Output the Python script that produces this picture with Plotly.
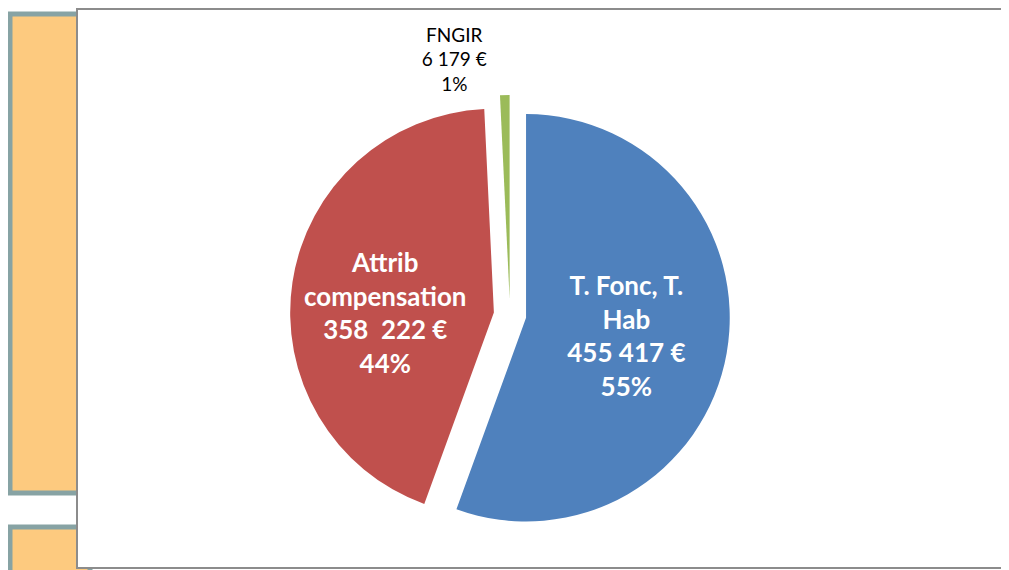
import plotly.graph_objects as go

# Data
categories = ["T. Fonc, T. Hab", "Attrib compensation", "FNGIR"]
display_names = ["T. Fonc, T.<br>Hab", "Attrib<br>compensation", "FNGIR"]
values = [455417, 358222, 6179]
value_labels = ["455 417 €", "358  222 €", "6 179 €"]
pct_labels = ["55%", "44%", "1%"]

colors = ["#4f81bd", "#c0504d", "#9bbb59"]

customdata = [[d, v, p] for d, v, p in zip(display_names, value_labels, pct_labels)]
templates = [
    "<b>%{customdata[0]}<br>%{customdata[1]}<br>%{customdata[2]}</b>",
    "<b>%{customdata[0]}<br>%{customdata[1]}<br>%{customdata[2]}</b>",
    "%{customdata[0]}<br>%{customdata[1]}<br>%{customdata[2]}",
]

W, H = 1009, 570
OFF = 8  # page offset of the plot div


def px(x):
    return (x - OFF) / W


def py(y):
    return 1 - (y - OFF) / H


fig = go.Figure()
fig.add_trace(go.Pie(
    labels=categories,
    values=values,
    customdata=customdata,
    texttemplate=templates,
    textposition=["inside", "inside", "outside"],
    insidetextorientation="horizontal",
    insidetextfont=dict(color="white", size=26, family="Lato"),
    outsidetextfont=dict(color="black", size=19, family="Lato"),
    marker=dict(colors=colors, line=dict(width=0)),
    sort=False,
    direction="clockwise",
    rotation=0,
    pull=[0.08, 0.08, 0.08],
    automargin=False,
    showlegend=False,
    domain=dict(x=[px(290), px(730)], y=[py(535), py(95)]),
))

shapes = [
    # left decorative panels
    dict(type="rect", xref="paper", yref="paper", x0=px(10), x1=px(90),
         y0=py(493), y1=py(14), fillcolor="#fdca7f",
         line=dict(color="#87a3a4", width=5), layer="below"),
    dict(type="rect", xref="paper", yref="paper", x0=px(10), x1=px(90),
         y0=-0.05, y1=py(527), fillcolor="#fdca7f",
         line=dict(color="#87a3a4", width=5), layer="below"),
    # chart box
    dict(type="rect", xref="paper", yref="paper", x0=px(77), x1=1.02,
         y0=py(568), y1=py(9), fillcolor="white",
         line=dict(color="#8c8c8c", width=2), layer="below"),
]

fig.update_layout(
    width=W,
    height=H,
    margin=dict(l=0, r=0, t=0, b=0, pad=0, autoexpand=False),
    paper_bgcolor="white",
    plot_bgcolor="white",
    shapes=shapes,
    font=dict(family="Lato"),
)

fig.write_html("out.html")
